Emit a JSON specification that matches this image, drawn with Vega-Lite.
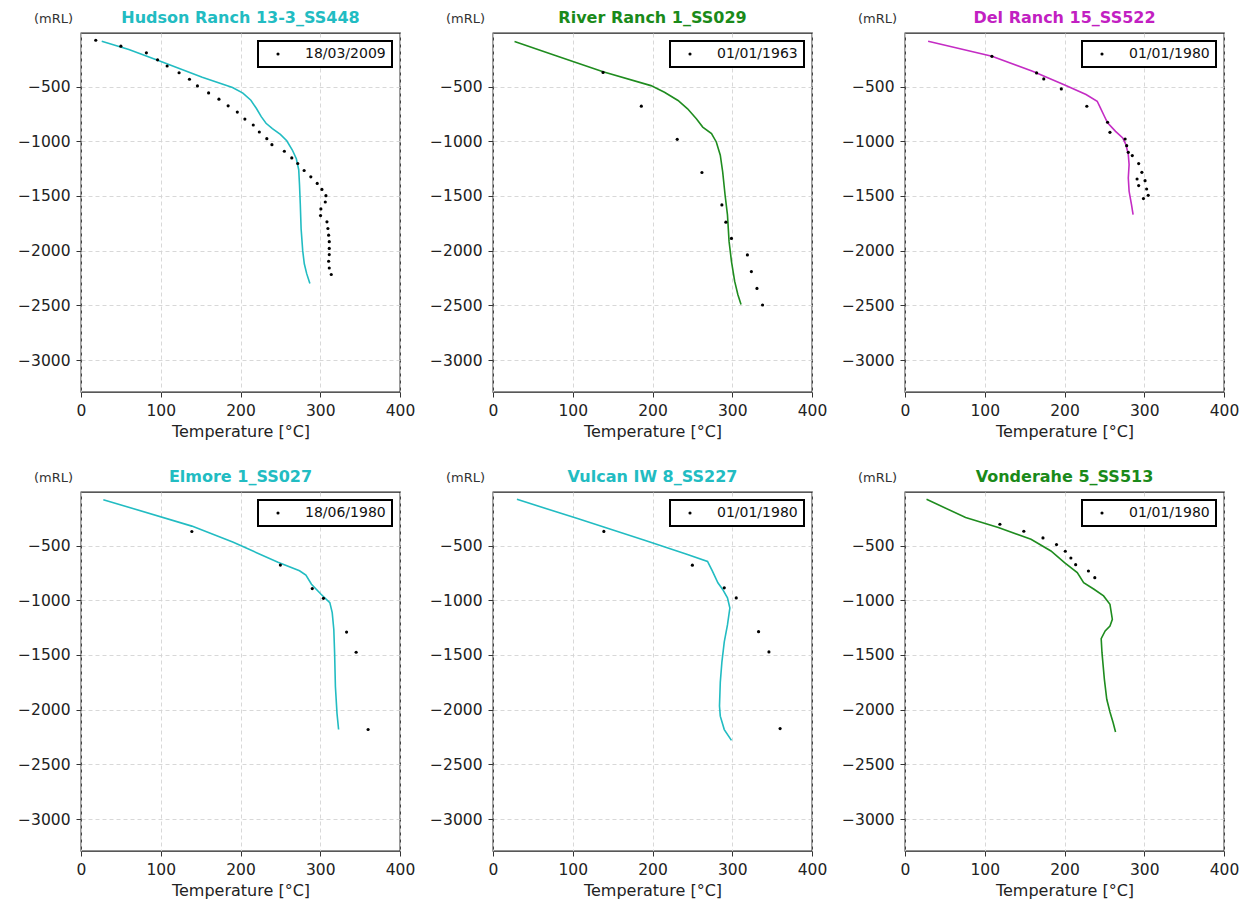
{
  "$schema": "https://vega.github.io/schema/vega-lite/v6.json",
  "padding": {"left": 16, "top": 9, "right": 5, "bottom": 5},
  "background": "white",
  "datasets": {
    "hr_m": [{"t":26,"z":-85},{"t":60,"z":-160},{"t":97,"z":-262},{"t":152,"z":-415},{"t":190,"z":-508},{"t":203,"z":-560},{"t":213,"z":-625},{"t":220,"z":-700},{"t":226,"z":-775},{"t":232,"z":-835},{"t":240,"z":-884},{"t":250,"z":-937},{"t":258,"z":-995},{"t":265,"z":-1080},{"t":270,"z":-1160},{"t":273,"z":-1260},{"t":274,"z":-1400},{"t":275,"z":-1580},{"t":276,"z":-1800},{"t":278,"z":-2000},{"t":280,"z":-2120},{"t":283,"z":-2210},{"t":287,"z":-2300}],
    "hr_o": [{"t":18.5,"z":-76,"date":"18/03/2009"},{"t":50,"z":-130,"date":"18/03/2009"},{"t":82,"z":-191,"date":"18/03/2009"},{"t":96,"z":-255,"date":"18/03/2009"},{"t":108,"z":-312,"date":"18/03/2009"},{"t":123,"z":-373,"date":"18/03/2009"},{"t":136,"z":-433,"date":"18/03/2009"},{"t":146,"z":-494,"date":"18/03/2009"},{"t":160,"z":-558,"date":"18/03/2009"},{"t":173,"z":-615,"date":"18/03/2009"},{"t":184.5,"z":-676,"date":"18/03/2009"},{"t":196,"z":-733,"date":"18/03/2009"},{"t":205.5,"z":-797,"date":"18/03/2009"},{"t":216,"z":-851,"date":"18/03/2009"},{"t":223.6,"z":-915,"date":"18/03/2009"},{"t":233,"z":-976,"date":"18/03/2009"},{"t":239.4,"z":-1031,"date":"18/03/2009"},{"t":255,"z":-1091,"date":"18/03/2009"},{"t":264.3,"z":-1152,"date":"18/03/2009"},{"t":271.8,"z":-1203,"date":"18/03/2009"},{"t":279.8,"z":-1267,"date":"18/03/2009"},{"t":288.2,"z":-1325,"date":"18/03/2009"},{"t":296.2,"z":-1385,"date":"18/03/2009"},{"t":302.1,"z":-1440,"date":"18/03/2009"},{"t":307.1,"z":-1497,"date":"18/03/2009"},{"t":306.3,"z":-1555,"date":"18/03/2009"},{"t":300.8,"z":-1618,"date":"18/03/2009"},{"t":300.4,"z":-1679,"date":"18/03/2009"},{"t":308.4,"z":-1736,"date":"18/03/2009"},{"t":309.6,"z":-1797,"date":"18/03/2009"},{"t":310.5,"z":-1858,"date":"18/03/2009"},{"t":311.3,"z":-1918,"date":"18/03/2009"},{"t":311.3,"z":-1979,"date":"18/03/2009"},{"t":311.3,"z":-2036,"date":"18/03/2009"},{"t":310.5,"z":-2097,"date":"18/03/2009"},{"t":311.3,"z":-2158,"date":"18/03/2009"},{"t":313.8,"z":-2218,"date":"18/03/2009"}],
    "rr_m": [{"t":27,"z":-88},{"t":80,"z":-220},{"t":138,"z":-364},{"t":198,"z":-491},{"t":215,"z":-552},{"t":232,"z":-627},{"t":244,"z":-703},{"t":255,"z":-794},{"t":263,"z":-870},{"t":274,"z":-930},{"t":280,"z":-1006},{"t":285,"z":-1127},{"t":288,"z":-1279},{"t":291,"z":-1491},{"t":294,"z":-1673},{"t":296,"z":-1915},{"t":299,"z":-2097},{"t":303,"z":-2279},{"t":307,"z":-2400},{"t":311,"z":-2491}],
    "rr_o": [{"t":138,"z":-370,"date":"01/01/1963"},{"t":186,"z":-679,"date":"01/01/1963"},{"t":231,"z":-982,"date":"01/01/1963"},{"t":262,"z":-1285,"date":"01/01/1963"},{"t":287,"z":-1582,"date":"01/01/1963"},{"t":292,"z":-1739,"date":"01/01/1963"},{"t":299,"z":-1888,"date":"01/01/1963"},{"t":319,"z":-2039,"date":"01/01/1963"},{"t":324,"z":-2191,"date":"01/01/1963"},{"t":331,"z":-2345,"date":"01/01/1963"},{"t":338,"z":-2497,"date":"01/01/1963"}],
    "dr_m": [{"t":29,"z":-85},{"t":109,"z":-223},{"t":160,"z":-360},{"t":201,"z":-488},{"t":227,"z":-573},{"t":241,"z":-634},{"t":245,"z":-695},{"t":250,"z":-771},{"t":254,"z":-832},{"t":264,"z":-909},{"t":273,"z":-970},{"t":277,"z":-1030},{"t":280,"z":-1122},{"t":281,"z":-1213},{"t":280,"z":-1335},{"t":281,"z":-1457},{"t":284,"z":-1579},{"t":286,"z":-1671}],
    "dr_o": [{"t":109,"z":-223,"date":"01/01/1980"},{"t":165,"z":-375,"date":"01/01/1980"},{"t":174,"z":-430,"date":"01/01/1980"},{"t":196,"z":-521,"date":"01/01/1980"},{"t":228,"z":-680,"date":"01/01/1980"},{"t":254,"z":-826,"date":"01/01/1980"},{"t":257,"z":-918,"date":"01/01/1980"},{"t":276,"z":-979,"date":"01/01/1980"},{"t":278,"z":-1040,"date":"01/01/1980"},{"t":280,"z":-1101,"date":"01/01/1980"},{"t":285,"z":-1131,"date":"01/01/1980"},{"t":293,"z":-1204,"date":"01/01/1980"},{"t":297,"z":-1284,"date":"01/01/1980"},{"t":291,"z":-1345,"date":"01/01/1980"},{"t":301,"z":-1360,"date":"01/01/1980"},{"t":293,"z":-1405,"date":"01/01/1980"},{"t":303,"z":-1436,"date":"01/01/1980"},{"t":305,"z":-1494,"date":"01/01/1980"},{"t":299,"z":-1524,"date":"01/01/1980"}],
    "el_m": [{"t":28,"z":-80},{"t":139,"z":-322},{"t":191,"z":-469},{"t":247,"z":-653},{"t":274,"z":-730},{"t":282,"z":-770},{"t":289,"z":-853},{"t":301,"z":-945},{"t":312,"z":-1021},{"t":315,"z":-1113},{"t":317,"z":-1267},{"t":318,"z":-1482},{"t":319,"z":-1788},{"t":321,"z":-2034},{"t":323,"z":-2181}],
    "el_o": [{"t":139,"z":-371,"date":"18/06/1980"},{"t":250,"z":-678,"date":"18/06/1980"},{"t":290,"z":-893,"date":"18/06/1980"},{"t":304,"z":-982,"date":"18/06/1980"},{"t":333,"z":-1291,"date":"18/06/1980"},{"t":345,"z":-1475,"date":"18/06/1980"},{"t":360,"z":-2181,"date":"18/06/1980"}],
    "vu_m": [{"t":30,"z":-77},{"t":106,"z":-253},{"t":191,"z":-454},{"t":242,"z":-577},{"t":269,"z":-645},{"t":275,"z":-731},{"t":282,"z":-840},{"t":288,"z":-901},{"t":294,"z":-978},{"t":297,"z":-1071},{"t":294,"z":-1225},{"t":290,"z":-1380},{"t":287,"z":-1565},{"t":285,"z":-1750},{"t":284,"z":-1966},{"t":285,"z":-2059},{"t":290,"z":-2182},{"t":299,"z":-2281}],
    "vu_o": [{"t":139,"z":-370,"date":"01/01/1980"},{"t":250,"z":-679,"date":"01/01/1980"},{"t":290,"z":-886,"date":"01/01/1980"},{"t":305,"z":-978,"date":"01/01/1980"},{"t":333,"z":-1287,"date":"01/01/1980"},{"t":346,"z":-1472,"date":"01/01/1980"},{"t":360,"z":-2173,"date":"01/01/1980"}],
    "vo_m": [{"t":27,"z":-76},{"t":76,"z":-244},{"t":117,"z":-335},{"t":158,"z":-442},{"t":183,"z":-549},{"t":200,"z":-655},{"t":216,"z":-747},{"t":224,"z":-838},{"t":237,"z":-899},{"t":249,"z":-960},{"t":257,"z":-1037},{"t":260,"z":-1174},{"t":257,"z":-1235},{"t":251,"z":-1280},{"t":246,"z":-1351},{"t":247,"z":-1479},{"t":250,"z":-1723},{"t":253,"z":-1905},{"t":257,"z":-2021},{"t":261,"z":-2119},{"t":264,"z":-2204}],
    "vo_o": [{"t":119,"z":-305,"date":"01/01/1980"},{"t":149,"z":-369,"date":"01/01/1980"},{"t":173,"z":-430,"date":"01/01/1980"},{"t":190,"z":-491,"date":"01/01/1980"},{"t":201,"z":-552,"date":"01/01/1980"},{"t":208,"z":-613,"date":"01/01/1980"},{"t":214,"z":-674,"date":"01/01/1980"},{"t":230,"z":-732,"date":"01/01/1980"},{"t":238,"z":-793,"date":"01/01/1980"}]
  },
  "columns": 3,
  "bounds": "flush",
  "spacing": {"row": 100, "column": 93},
  "resolve": {"scale": {"color": "independent", "x": "independent", "y": "independent"}, "legend": {"color": "independent"}},
  "concat": [
    {
      "width": 319, "height": 359,
      "title": {"text": "Hudson Ranch 13-3_SS448", "color": "#22bcc2"},
      "layer": [
        {"data": {"name": "hr_m"}, "mark": {"type": "line", "color": "#22bcc2", "strokeWidth": 1.6},
         "encoding": {"x": {"field": "t", "type": "quantitative", "scale": {"domain": [0, 400], "nice": false}, "axis": {"values": [0,100,200,300,400], "format": "d", "title": "Temperature [°C]"}},
                      "y": {"field": "z", "type": "quantitative", "scale": {"domain": [-3292, -10], "nice": false, "zero": false}, "axis": {"values": [-500,-1000,-1500,-2000,-2500,-3000], "format": "d", "title": "(mRL)"}},
                      "order": {"field": "z", "sort": "descending"}}},
        {"data": {"name": "hr_o"}, "mark": {"type": "point", "filled": true, "size": 10, "opacity": 1},
         "encoding": {"x": {"field": "t", "type": "quantitative"}, "y": {"field": "z", "type": "quantitative"},
                      "color": {"field": "date", "type": "nominal", "scale": {"range": ["black"]}, "legend": {"title": null}}}}
      ]
    },
    {
      "width": 319, "height": 359,
      "title": {"text": "River Ranch 1_SS029", "color": "#1a8a1a"},
      "layer": [
        {"data": {"name": "rr_m"}, "mark": {"type": "line", "color": "#1f8c1f", "strokeWidth": 1.6},
         "encoding": {"x": {"field": "t", "type": "quantitative", "scale": {"domain": [0, 400], "nice": false}, "axis": {"values": [0,100,200,300,400], "format": "d", "title": "Temperature [°C]"}},
                      "y": {"field": "z", "type": "quantitative", "scale": {"domain": [-3292, -10], "nice": false, "zero": false}, "axis": {"values": [-500,-1000,-1500,-2000,-2500,-3000], "format": "d", "title": "(mRL)"}},
                      "order": {"field": "z", "sort": "descending"}}},
        {"data": {"name": "rr_o"}, "mark": {"type": "point", "filled": true, "size": 10, "opacity": 1},
         "encoding": {"x": {"field": "t", "type": "quantitative"}, "y": {"field": "z", "type": "quantitative"},
                      "color": {"field": "date", "type": "nominal", "scale": {"range": ["black"]}, "legend": {"title": null}}}}
      ]
    },
    {
      "width": 319, "height": 359,
      "title": {"text": "Del Ranch 15_SS522", "color": "#c21fc2"},
      "layer": [
        {"data": {"name": "dr_m"}, "mark": {"type": "line", "color": "#c42cc4", "strokeWidth": 1.6},
         "encoding": {"x": {"field": "t", "type": "quantitative", "scale": {"domain": [0, 400], "nice": false}, "axis": {"values": [0,100,200,300,400], "format": "d", "title": "Temperature [°C]"}},
                      "y": {"field": "z", "type": "quantitative", "scale": {"domain": [-3292, -10], "nice": false, "zero": false}, "axis": {"values": [-500,-1000,-1500,-2000,-2500,-3000], "format": "d", "title": "(mRL)"}},
                      "order": {"field": "z", "sort": "descending"}}},
        {"data": {"name": "dr_o"}, "mark": {"type": "point", "filled": true, "size": 10, "opacity": 1},
         "encoding": {"x": {"field": "t", "type": "quantitative"}, "y": {"field": "z", "type": "quantitative"},
                      "color": {"field": "date", "type": "nominal", "scale": {"range": ["black"]}, "legend": {"title": null}}}}
      ]
    },
    {
      "width": 319, "height": 359,
      "title": {"text": "Elmore 1_SS027", "color": "#22bcc2"},
      "layer": [
        {"data": {"name": "el_m"}, "mark": {"type": "line", "color": "#22bcc2", "strokeWidth": 1.6},
         "encoding": {"x": {"field": "t", "type": "quantitative", "scale": {"domain": [0, 400], "nice": false}, "axis": {"values": [0,100,200,300,400], "format": "d", "title": "Temperature [°C]"}},
                      "y": {"field": "z", "type": "quantitative", "scale": {"domain": [-3292, -10], "nice": false, "zero": false}, "axis": {"values": [-500,-1000,-1500,-2000,-2500,-3000], "format": "d", "title": "(mRL)"}},
                      "order": {"field": "z", "sort": "descending"}}},
        {"data": {"name": "el_o"}, "mark": {"type": "point", "filled": true, "size": 10, "opacity": 1},
         "encoding": {"x": {"field": "t", "type": "quantitative"}, "y": {"field": "z", "type": "quantitative"},
                      "color": {"field": "date", "type": "nominal", "scale": {"range": ["black"]}, "legend": {"title": null}}}}
      ]
    },
    {
      "width": 319, "height": 359,
      "title": {"text": "Vulcan IW 8_SS227", "color": "#22bcc2"},
      "layer": [
        {"data": {"name": "vu_m"}, "mark": {"type": "line", "color": "#22bcc2", "strokeWidth": 1.6},
         "encoding": {"x": {"field": "t", "type": "quantitative", "scale": {"domain": [0, 400], "nice": false}, "axis": {"values": [0,100,200,300,400], "format": "d", "title": "Temperature [°C]"}},
                      "y": {"field": "z", "type": "quantitative", "scale": {"domain": [-3292, -10], "nice": false, "zero": false}, "axis": {"values": [-500,-1000,-1500,-2000,-2500,-3000], "format": "d", "title": "(mRL)"}},
                      "order": {"field": "z", "sort": "descending"}}},
        {"data": {"name": "vu_o"}, "mark": {"type": "point", "filled": true, "size": 10, "opacity": 1},
         "encoding": {"x": {"field": "t", "type": "quantitative"}, "y": {"field": "z", "type": "quantitative"},
                      "color": {"field": "date", "type": "nominal", "scale": {"range": ["black"]}, "legend": {"title": null}}}}
      ]
    },
    {
      "width": 319, "height": 359,
      "title": {"text": "Vonderahe 5_SS513", "color": "#1a8a1a"},
      "layer": [
        {"data": {"name": "vo_m"}, "mark": {"type": "line", "color": "#1f8c1f", "strokeWidth": 1.6},
         "encoding": {"x": {"field": "t", "type": "quantitative", "scale": {"domain": [0, 400], "nice": false}, "axis": {"values": [0,100,200,300,400], "format": "d", "title": "Temperature [°C]"}},
                      "y": {"field": "z", "type": "quantitative", "scale": {"domain": [-3292, -10], "nice": false, "zero": false}, "axis": {"values": [-500,-1000,-1500,-2000,-2500,-3000], "format": "d", "title": "(mRL)"}},
                      "order": {"field": "z", "sort": "descending"}}},
        {"data": {"name": "vo_o"}, "mark": {"type": "point", "filled": true, "size": 10, "opacity": 1},
         "encoding": {"x": {"field": "t", "type": "quantitative"}, "y": {"field": "z", "type": "quantitative"},
                      "color": {"field": "date", "type": "nominal", "scale": {"range": ["black"]}, "legend": {"title": null}}}}
      ]
    }
  ],
  "config": {
    "font": "DejaVu Sans",
    "view": {"stroke": "#222", "strokeWidth": 1.3},
    "title": {"fontSize": 16, "fontWeight": "bold", "font": "DejaVu Sans", "offset": -14, "anchor": "middle"},
    "axis": {"labelFont": "DejaVu Sans", "titleFont": "DejaVu Sans", "labelFontSize": 15.5, "labelColor": "#222", "titleFontSize": 16, "titleFontWeight": "normal", "titleColor": "#222", "tickColor": "#333", "tickSize": 5, "tickWidth": 1, "domain": false, "gridColor": "#d4d4d4", "gridDash": [4, 3], "gridWidth": 0.9, "labelPadding": 6, "labelFlush": false, "labelOverlap": false},
    "axisX": {"titlePadding": 5},
    "axisY": {"titleAngle": 0, "titleX": -28, "titleY": -11, "titleAlign": "center", "titleBaseline": "alphabetic", "titleFontSize": 13, "titleColor": "#333"},
    "legend": {"orient": "top-right", "offset": 8, "padding": 6, "strokeColor": "black", "strokeWidth": 2, "fillColor": "white", "cornerRadius": 0, "labelFont": "DejaVu Sans", "labelFontSize": 14, "labelColor": "#111", "symbolType": "circle", "symbolSize": 10, "symbolFillColor": "black", "symbolStrokeWidth": 0, "symbolOffset": 7, "labelOffset": 20}
  }
}
